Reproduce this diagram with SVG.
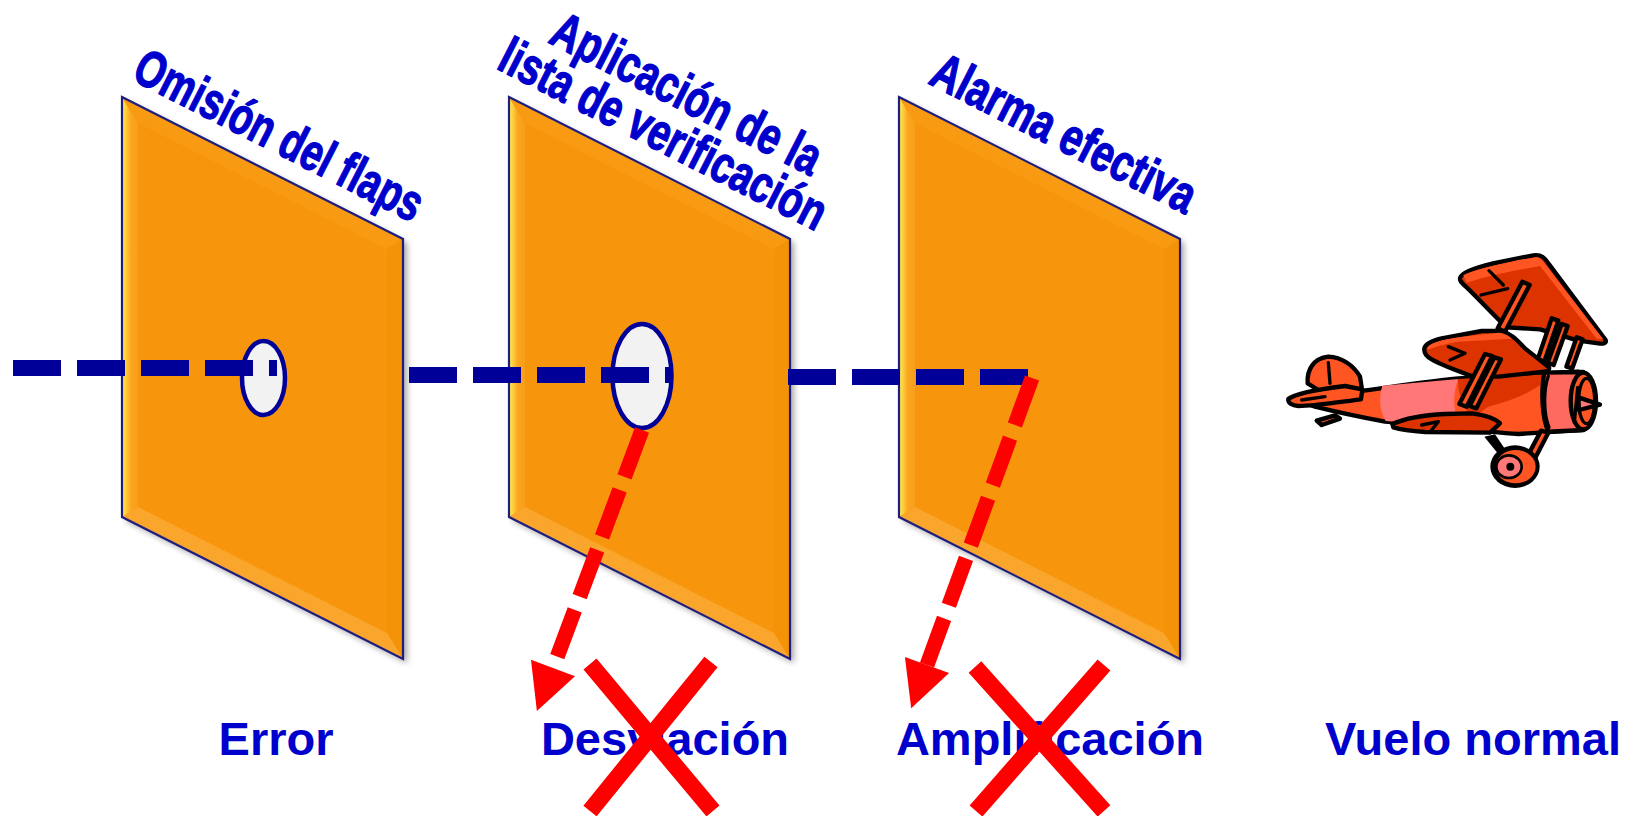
<svg xmlns="http://www.w3.org/2000/svg" width="1635" height="816" viewBox="0 0 1635 816">
<style>
.lbl{font-family:"Liberation Sans",Arial,sans-serif;font-weight:bold;fill:#0000CC;}
.bot{font-size:47px;text-anchor:middle;}
.rot{font-size:52px;stroke:#0000CC;stroke-width:1.3;stroke-linejoin:round;}
.blue{stroke:#000099;stroke-width:16;stroke-dasharray:48 16;fill:none;}
.red{stroke:#FF0000;stroke-width:15;stroke-dasharray:50 14;fill:none;}
.x{stroke:#FF0000;stroke-width:17;fill:none;}
.hole{fill:#F2F2F2;stroke:#000099;stroke-width:4.5;}
.pl{stroke:#000;stroke-width:13;stroke-linejoin:round;stroke-linecap:round;}
.pli{stroke:#000;stroke-width:10;fill:none;stroke-linecap:round;stroke-linejoin:round;}
.dk{fill:#DD3300;}
.md{fill:#FF5522;}
.pk{fill:#FF7777;}
</style>
<defs>
<linearGradient id="gLeft" x1="0" y1="0" x2="1" y2="0">
<stop offset="0" stop-color="#FFEE55"/>
<stop offset="0.55" stop-color="#FBA520"/>
<stop offset="1" stop-color="#F99E18"/>
</linearGradient>
<filter id="shadow" x="-10%" y="-10%" width="130%" height="130%">
<feGaussianBlur stdDeviation="3"/>
</filter>
<marker id="arrowRed" markerUnits="userSpaceOnUse" viewBox="0 -25 50 50" markerWidth="50" markerHeight="50" refX="0" refY="0" orient="auto" overflow="visible">
<path d="M0,-23.5 L46,0 L0,23.5 Z" fill="#FF0000"/>
</marker>
<g id="panelShape">
<polygon points="4,101 285,243 285,663 4,521" fill="#000" opacity="0.35" filter="url(#shadow)"/>
<polygon points="0,97 281,239 281,659 0,517" fill="#F7960C"/>
<polygon points="0,97 16,123 16,507 0,517" fill="url(#gLeft)"/>
<polygon points="0,97 281,239 265,249 16,123" fill="#F99B12"/>
<polygon points="281,239 281,659 265,633 265,249" fill="#F49307"/>
<polygon points="0,517 16,507 265,633 281,659" fill="#FAA52C"/>
<polygon points="0,97 281,239 281,659 0,517" fill="none" stroke="#1E1E80" stroke-width="2.2"/>
</g>
</defs>
<rect width="1635" height="816" fill="#FFFFFF"/>

<g id="panel-omision">
<use href="#panelShape" x="122"/>
<ellipse class="hole" cx="263.5" cy="378" rx="21.5" ry="37"/>
</g>
<g id="panel-lista">
<use href="#panelShape" x="509"/>
<ellipse class="hole" cx="642" cy="376" rx="29.5" ry="52"/>
</g>
<g id="panel-alarma">
<use href="#panelShape" x="899"/>
</g>

<g id="label-omision">
<text class="lbl rot" transform="translate(130,79) rotate(27)" textLength="317" lengthAdjust="spacingAndGlyphs">Omisión del flaps</text>
</g>
<g id="label-lista">
<text class="lbl rot" transform="translate(547,42) rotate(27)" textLength="296" lengthAdjust="spacingAndGlyphs">Aplicación de la</text>
<text class="lbl rot" transform="translate(495,68) rotate(27)" textLength="360" lengthAdjust="spacingAndGlyphs">lista de verificación</text>
</g>
<g id="label-alarma">
<text class="lbl rot" transform="translate(927,83) rotate(27)" textLength="290" lengthAdjust="spacingAndGlyphs">Alarma efectiva</text>
</g>

<g id="node-error"><text class="lbl bot" x="276" y="755">Error</text></g>
<g id="node-desviacion"><text class="lbl bot" x="665" y="755">Desviación</text></g>
<g id="node-amplificacion"><text class="lbl bot" x="1050" y="755">Amplificación</text></g>
<g id="node-vuelo"><text class="lbl bot" x="1473" y="755">Vuelo normal</text></g>

<g id="node-plane" transform="translate(1285,250) scale(0.33333)">
<path class="pl dk" d="M527,80 C540,60 600,45 650,35 L745,16 C770,12 780,25 790,40 L962,270 C965,280 955,282 940,280 L880,272 L765,238 L665,232 C625,195 575,140 545,112 C525,95 522,88 527,80 Z"/>
<path class="md" d="M535,76 C560,62 620,48 700,30 L752,22 C765,22 772,30 778,40 L955,268 L935,266 L765,48 C700,60 620,75 545,98 Z"/>
<path class="pli" d="M612,62 L655,105 M588,135 L668,116"/>
<path class="pl md" d="M712,95 L734,105 L660,245 L638,235 Z"/>
<path class="pl md" d="M800,205 L820,212 L778,335 L758,328 Z"/>
<path class="pl md" d="M830,222 L848,228 L806,345 L788,338 Z"/>
<path class="pl md" d="M875,262 L893,268 L862,355 L844,350 Z"/>
<path class="pl md" d="M215,425 C320,410 420,395 520,385 L780,370 L880,365 L890,540 L700,552 C600,545 500,532 430,525 L300,515 C220,500 150,485 90,470 L60,458 Z"/>
<path class="pk" d="M292,407 L520,387 C502,430 505,480 522,530 L302,513 C282,480 282,440 292,407 Z"/>
<path class="dk" d="M520,387 L800,372 C760,420 690,450 610,470 L560,505 C530,460 515,420 520,387 Z"/>
<path class="pl md" d="M68,400 C65,360 85,325 130,320 C170,322 205,345 225,380 L232,425 L100,420 Z"/>
<path class="pli" d="M130,338 L135,400"/>
<path class="pl md" d="M10,447 C30,430 100,418 180,408 L232,418 L228,448 C170,455 90,468 40,468 C20,467 8,458 10,447 Z"/>
<path class="pli" d="M50,450 L120,440"/>
<path class="pl md" d="M95,512 L150,496 L165,506 L110,525 Z"/>
<path class="pl dk" d="M418,300 C415,285 440,272 470,265 L590,243 L650,243 C680,250 700,275 720,295 L792,352 C795,362 785,365 770,366 L640,380 L560,378 C510,360 470,345 440,328 C425,320 418,310 418,300 Z"/>
<path class="md" d="M428,292 C440,278 470,270 520,262 L640,248 C660,250 672,258 680,266 L520,275 C480,282 450,290 428,300 Z"/>
<path class="pli" d="M490,290 L540,310 L495,330"/>
<path class="pl md" d="M600,312 L622,318 L545,470 L523,462 Z"/>
<path class="pl md" d="M628,322 L648,328 L574,475 L554,468 Z"/>
<path class="pl dk" d="M322,522 C360,505 420,495 480,492 L560,490 C600,495 630,505 645,520 L615,548 L420,546 C380,543 345,538 325,532 Z"/>
<path class="pli" d="M410,525 L460,515 L440,540"/>
<path class="pl" fill="#FF6A60" d="M778,368 L895,366 L897,540 L790,545 C770,500 768,420 778,368 Z"/>
<path class="pli" d="M790,378 C775,420 775,490 792,532"/>
<ellipse class="pl md" cx="895" cy="453" rx="38" ry="85"/>
<ellipse class="pli" cx="905" cy="453" rx="24" ry="68"/>
<path class="pli" d="M878,412 L868,518"/>
<path class="pl pk" d="M880,442 L945,464 L882,480 Z"/>
<path class="pl md" d="M768,542 L790,548 L737,650 L715,642 Z"/>
<path fill="#000" d="M598,560 L630,553 L662,600 L640,612 Z"/>
<ellipse cx="690" cy="650" rx="74" ry="64" fill="#000"/>
<ellipse cx="692" cy="650" rx="60" ry="50" class="md"/>
<ellipse cx="672" cy="650" rx="38" ry="34" class="pk" stroke="#000" stroke-width="8"/>
<circle cx="676" cy="650" r="12" fill="#000"/>
</g>

<g id="connectors">
<line class="blue" x1="13" y1="368" x2="277" y2="368"/>
<line class="blue" x1="409" y1="375" x2="671" y2="375"/>
<line class="blue" x1="788" y1="377" x2="1028" y2="377"/>
<line class="red" x1="642" y1="430" x2="553" y2="668" marker-end="url(#arrowRed)"/>
<line class="red" x1="1032" y1="378" x2="927" y2="665" marker-end="url(#arrowRed)"/>
</g>

<g id="blocked">
<path class="x" d="M590,664 L713,811 M711,662 L590,811"/>
<path class="x" d="M975,667 L1104,811 M1104,665 L976,811"/>
</g>
</svg>
